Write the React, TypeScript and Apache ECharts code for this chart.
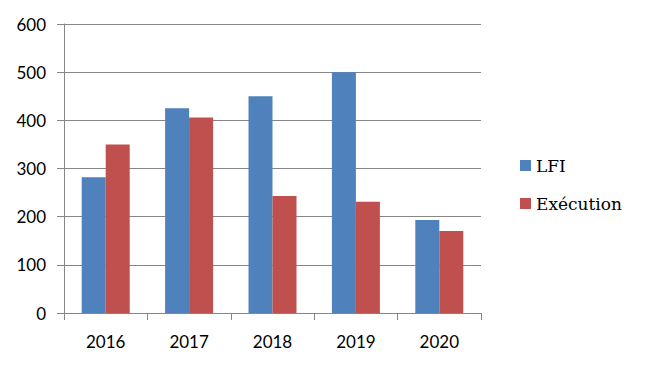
import React, { useEffect, useRef } from "react";
import * as echarts from "echarts";

const categories = ["2016", "2017", "2018", "2019", "2020"];
const lfiValues = [282, 425, 450, 500, 193];
const executionValues = [350, 406, 243, 231, 170];
const seriesNames = ["LFI", "Exécution"];

const legendFont = { fontFamily: "DejaVu Serif", fontSize: 17, color: "#000" };

export default function App() {
  const ref = useRef<HTMLDivElement>(null);
  useEffect(() => {
    if (!ref.current) return;
    const chart = echarts.init(ref.current, null, { renderer: "svg" });
    chart.setOption({
      animation: false,
      backgroundColor: "#ffffff",
      grid: { left: 64, right: 164, top: 24, bottom: 53, containLabel: false },
      legend: {
        orient: "vertical",
        left: 515,
        top: 152,
        itemWidth: 11,
        itemHeight: 11,
        itemGap: 21,
        icon: "rect",
        textStyle: legendFont,
        data: seriesNames,
      },
      xAxis: {
        type: "category",
        data: categories,
        axisLine: { lineStyle: { color: "#868686", width: 1 } },
        axisTick: { show: true, length: 7, alignWithLabel: false, lineStyle: { color: "#868686" } },
        axisLabel: { fontFamily: "Lato", fontSize: 17, color: "#000", margin: 20 },
        splitLine: { show: false },
      },
      yAxis: {
        type: "value",
        min: 0,
        max: 600,
        interval: 100,
        axisLine: { show: true, lineStyle: { color: "#868686", width: 1 } },
        axisTick: { show: true, length: 7, lineStyle: { color: "#868686" } },
        axisLabel: { fontFamily: "Lato", fontSize: 17, color: "#000", margin: 18 },
        splitLine: { show: true, lineStyle: { color: "#868686", width: 1 } },
      },
      series: [
        {
          name: seriesNames[0],
          type: "bar",
          data: lfiValues,
          barWidth: 24,
          barGap: "0%",
          itemStyle: { color: "#4F81BD" },
        },
        {
          name: seriesNames[1],
          type: "bar",
          data: executionValues,
          barWidth: 24,
          barGap: "0%",
          itemStyle: { color: "#C0504D" },
        },
      ],
    });
    return () => chart.dispose();
  }, []);
  return <div ref={ref} style={{ width: 645, height: 366, position: "absolute", left: 0, top: 0 }} />;
}
